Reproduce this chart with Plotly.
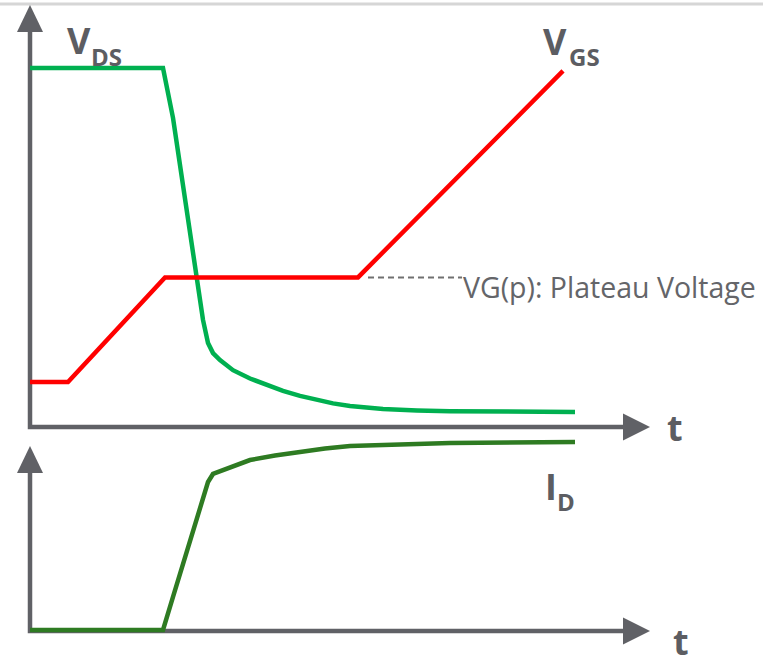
import plotly.graph_objects as go

# ---------------- data (arbitrary time units / volts / amps) ----------------
t_vgs = [0, 1.9, 6.75, 16.4, 26.65]
vgs = [1.5, 1.5, 5.0, 5.0, 11.9]

t_vds = [0, 6.65, 7.15, 8.65, 8.9, 9.15, 9.5, 10.15, 11.0, 11.85, 12.65, 13.5, 14.35, 15.15,
         16.0, 16.85, 17.65, 19.35, 21.0, 27.25]
vds = [12.0, 12.0, 10.33, 3.58, 2.81, 2.47, 2.24, 1.90, 1.62, 1.40, 1.21, 1.04, 0.90, 0.79,
       0.70, 0.64, 0.60, 0.555, 0.53, 0.50]

t_id = [0, 6.65, 7.15, 7.65, 8.15, 8.5, 8.75, 8.9, 9.15, 9.65, 10.15, 11.0, 12.25, 13.5, 14.75,
        16.0, 18.5, 21.0, 27.25]
i_d = [0, 0, 1.76, 3.56, 5.32, 6.49, 7.34, 7.87, 8.30, 8.51, 8.72, 9.04, 9.28, 9.47, 9.65,
       9.79, 9.89, 9.95, 10.0]

plateau_t = [16.9, 21.6]
plateau_label = "VG(p): Plateau Voltage"

# ---------------- styling ----------------
W, H = 763, 658
AX = "#606166"
TXT = "#5c5d62"
RED = "#ff0000"
GREEN = "#00b050"
DKGREEN = "#2e7b22"


def px(x):
    return x / W


def py(y):
    return 1 - y / H


fig = go.Figure()
fig.add_trace(go.Scatter(x=t_vds, y=vds, mode="lines", line=dict(color=GREEN, width=4.5),
                         yaxis="y", hoverinfo="skip"))
fig.add_trace(go.Scatter(x=t_vgs, y=vgs, mode="lines", line=dict(color=RED, width=4.5),
                         yaxis="y", hoverinfo="skip"))
fig.add_trace(go.Scatter(x=t_id, y=i_d, mode="lines", line=dict(color=DKGREEN, width=4.5),
                         yaxis="y2", hoverinfo="skip"))

shapes = []
# light top border
shapes.append(dict(type="line", xref="paper", yref="paper", x0=0, x1=1, y0=py(4), y1=py(4),
                   line=dict(color="#d6d6d6", width=3), layer="below"))


def axis_path(x0, ytop, ybase, xend):
    return (f"M {px(x0)},{py(ytop)} L {px(x0)},{py(ybase)} L {px(xend)},{py(ybase)}")


def tri(pts):
    s = "M " + " L ".join(f"{px(a)},{py(b)}" for a, b in pts) + " Z"
    return s


for ytop, ybase, ytip in [(30, 427, 5), (471, 631, 446)]:
    shapes.append(dict(type="path", xref="paper", yref="paper", path=axis_path(30, ytop, ybase, 626),
                       line=dict(color=AX, width=4.5), layer="below"))
    shapes.append(dict(type="path", xref="paper", yref="paper",
                       path=tri([(17, ytip + 27), (43, ytip + 27), (30, ytip)]),
                       fillcolor=AX, line=dict(width=0), layer="below"))
    shapes.append(dict(type="path", xref="paper", yref="paper",
                       path=tri([(623, ybase - 13.5), (623, ybase + 13.5), (650, ybase)]),
                       fillcolor=AX, line=dict(width=0), layer="below"))

# dashed leader for plateau
shapes.append(dict(type="line", xref="x", yref="y", x0=plateau_t[0], x1=plateau_t[1],
                   y0=vgs[2], y1=vgs[3], line=dict(color="#707070", width=2, dash="6px,4px")))

FONT_B = "Open Sans"


def ann(text, x, y, size, bold=True, color=TXT, xanchor="left"):
    return dict(text=f"<b>{text}</b>" if bold else text, x=px(x), y=py(y), xref="paper", yref="paper",
                xanchor=xanchor, yanchor="middle", showarrow=False,
                font=dict(family=FONT_B, size=size, color=color))


annotations = [
    ann("V", 65, 40.5, 36), ann("DS", 89, 56.5, 24),
    ann("V", 541, 41.5, 36), ann("GS", 567, 56.5, 24),
    ann("I", 543, 486.5, 36), ann("D", 555, 501.5, 24),
    ann("t", 665, 427.5, 36), ann("t", 671, 641, 36),
    ann(plateau_label, 461, 287, 28.5, bold=False, color="#646569"),
]

fig.update_layout(
    width=W, height=H,
    margin=dict(l=0, r=0, t=0, b=0),
    paper_bgcolor="white", plot_bgcolor="rgba(0,0,0,0)",
    showlegend=False,
    xaxis=dict(range=[-1.5, 36.65], domain=[0, 1], visible=False, fixedrange=True),
    yaxis=dict(range=[-(H - 427) / 29.92, 427 / 29.92], domain=[0, 1], visible=False),
    yaxis2=dict(range=[-(H - 630) / 18.8, 630 / 18.8], domain=[0, 1], visible=False,
                overlaying="y"),
    shapes=shapes,
    annotations=annotations,
)

fig.write_html("out.html", config={"displayModeBar": False},
               post_script="document.body.style.margin='0px';document.body.style.overflow='hidden';")
